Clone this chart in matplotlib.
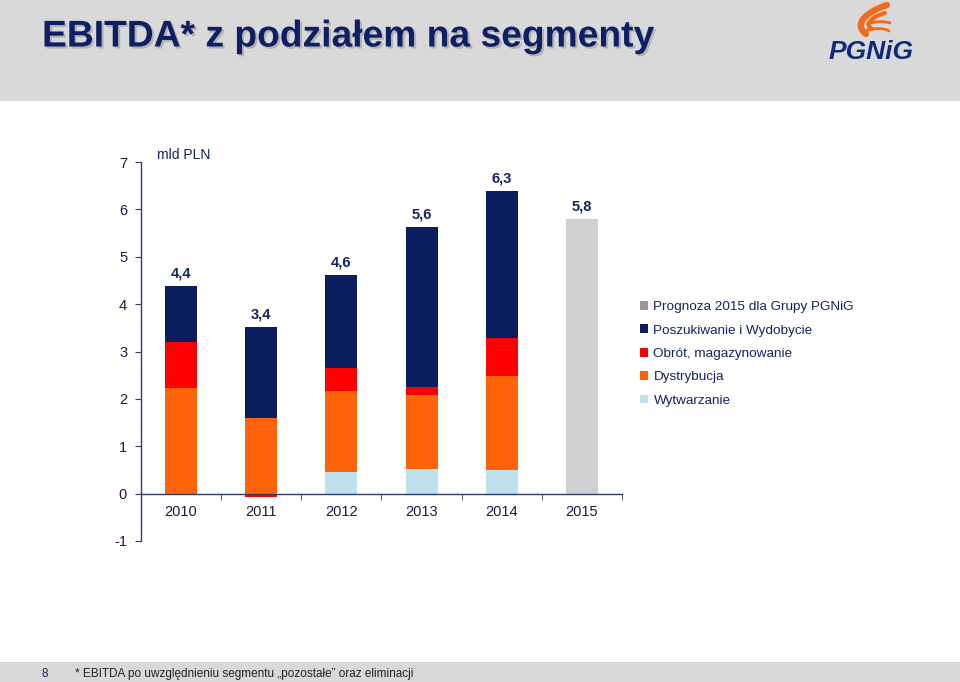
import numpy as np
import matplotlib
matplotlib.use("Agg")
import matplotlib.pyplot as plt
from matplotlib.patches import Rectangle, Patch, PathPatch
from matplotlib.path import Path
import matplotlib.patheffects as pe

plt.rcParams['font.family'] = ['Liberation Sans', 'DejaVu Sans']

years = ["2010", "2011", "2012", "2013", "2014", "2015"]
wytwarzanie = [0.0, 0.0, 0.46, 0.51, 0.50, 0.0]
dystrybucja = [2.24, 1.60, 1.71, 1.58, 1.99, 0.0]
obrot = [0.95, -0.08, 0.49, 0.17, 0.80, 0.0]
poszukiwanie = [1.20, 1.92, 1.96, 3.37, 3.10, 0.0]
prognoza = [0.0, 0.0, 0.0, 0.0, 0.0, 5.8]
total_labels = ["4,4", "3,4", "4,6", "5,6", "6,3", "5,8"]

series = [
    ("Wytwarzanie", wytwarzanie, "#BFE1EC"),
    ("Dystrybucja", dystrybucja, "#FF6309"),
    ("Obrót, magazynowanie", obrot, "#FF0000"),
    ("Poszukiwanie i Wydobycie", poszukiwanie, "#0B1D5F"),
    ("Prognoza 2015 dla Grupy PGNiG", prognoza, "#D0D0D2"),
]

NAVY = "#13245E"
GREY_BAND = "#D9D9D9"

fig = plt.figure(figsize=(9.6, 6.82), dpi=100)

def px(xp, yp):
    # pixel coords (top-left origin) -> figure fraction
    return xp / 960, 1 - yp / 682

# header / footer bands
fig.add_artist(Rectangle((0, 1 - 101 / 682), 1, 101 / 682, transform=fig.transFigure,
                         facecolor=GREY_BAND, edgecolor="none", zorder=0))
fig.add_artist(Rectangle((0, 0), 1, 20 / 682, transform=fig.transFigure,
                         facecolor=GREY_BAND, edgecolor="none", zorder=0))

fig.text(*px(42, 37), "EBITDA* z podziałem na segmenty", fontsize=26.8,
         fontweight="bold", color="#0F1F66", va="center", ha="left",
         path_effects=[pe.withSimplePatchShadow(offset=(1.5, -1.5), shadow_rgbFace="#999999", alpha=0.6)])

# logo
fig.text(*px(871, 52), "PGNiG", fontsize=19, fontweight="bold", style="italic",
         color="#102A7A", ha="center", va="center")
# flame: a "C" shaped sweep with wisps
flame_paths = [
    [(887, 5), (866, 12), (853, 24), (866, 34)],
    [(885, 13), (872, 17), (864, 24), (872, 29)],
    [(867, 24), (876, 21), (884, 21), (890, 23)],
    [(867, 30), (876, 28), (884, 28), (889, 31)],
]
for pts, lw in zip(flame_paths, [4.5, 3.0, 2.0, 2.0]):
    verts = [px(*p) for p in pts]
    path = Path(verts, [Path.MOVETO, Path.CURVE4, Path.CURVE4, Path.CURVE4])
    fig.add_artist(PathPatch(path, transform=fig.transFigure, facecolor="none",
                             edgecolor="#F26B1D", lw=lw, capstyle="round"))

fig.text(*px(42, 674), "8", fontsize=8.5, color="#1F2A50", va="center")
fig.text(*px(75, 674), "* EBITDA po uwzględnieniu segmentu \u201epozostałe\u201d oraz eliminacji",
         fontsize=8.5, color="#222222", va="center")

ax = fig.add_axes([141 / 960, 1 - 541 / 682, 481 / 960, 379 / 682])
x = np.arange(len(years))
width = 0.4
pos_bottom = np.zeros(len(years))
neg_bottom = np.zeros(len(years))
handles = {}
for name, vals, color in series:
    v = np.array(vals)
    bottom = np.where(v >= 0, pos_bottom, neg_bottom)
    ax.bar(x, v, width, bottom=bottom, color=color, edgecolor="none", label=name)
    handles[name] = color
    pos_bottom = pos_bottom + np.where(v > 0, v, 0)
    neg_bottom = neg_bottom + np.where(v < 0, v, 0)

for xi, top, lab in zip(x, pos_bottom, total_labels):
    ax.annotate(lab, (xi, top), xytext=(0, 4), textcoords="offset points",
                ha="center", va="bottom", fontsize=10.5, fontweight="bold", color=NAVY)

ax.set_xlim(-0.5, len(years) - 0.5)
ax.set_ylim(-1, 7)
ax.set_yticks(range(-1, 8))
ax.set_yticklabels([str(v) for v in range(-1, 8)])
ax.spines["top"].set_visible(False)
ax.spines["right"].set_visible(False)
ax.spines["bottom"].set_position(("data", 0))
for s in ("left", "bottom"):
    ax.spines[s].set_color("#2E3D66")
    ax.spines[s].set_linewidth(1.0)
ax.set_xticks(x)
ax.set_xticklabels(years)
ax.set_xticks(np.arange(-0.5, len(years)), minor=True)
ax.tick_params(axis="x", which="major", length=0, pad=8, labelsize=10.5, labelcolor="#1A1A40")
ax.tick_params(axis="x", which="minor", length=4, direction="out", color="#2E3D66")
ax.tick_params(axis="y", length=4, direction="out", color="#2E3D66", pad=6,
               labelsize=10.5, labelcolor="#1A1A40")

ax.text(0.033, 1.018, "mld PLN", transform=ax.transAxes, fontsize=10, color=NAVY, va="center")

legend_order = ["Prognoza 2015 dla Grupy PGNiG", "Poszukiwanie i Wydobycie",
                "Obrót, magazynowanie", "Dystrybucja", "Wytwarzanie"]
legend_colors = {"Prognoza 2015 dla Grupy PGNiG": "#999999"}
leg_handles = [Patch(facecolor=legend_colors.get(n, handles[n]), edgecolor="none") for n in legend_order]
leg = fig.legend(leg_handles, legend_order, loc="upper left",
                 bbox_to_anchor=px(640, 301), frameon=False, fontsize=9.7,
                 handlelength=0.6, handleheight=0.6, handletextpad=0.4, labelspacing=0.85,
                 borderaxespad=0, borderpad=0)
for t in leg.get_texts():
    t.set_color(NAVY)

fig.savefig("out.png", dpi=100)
